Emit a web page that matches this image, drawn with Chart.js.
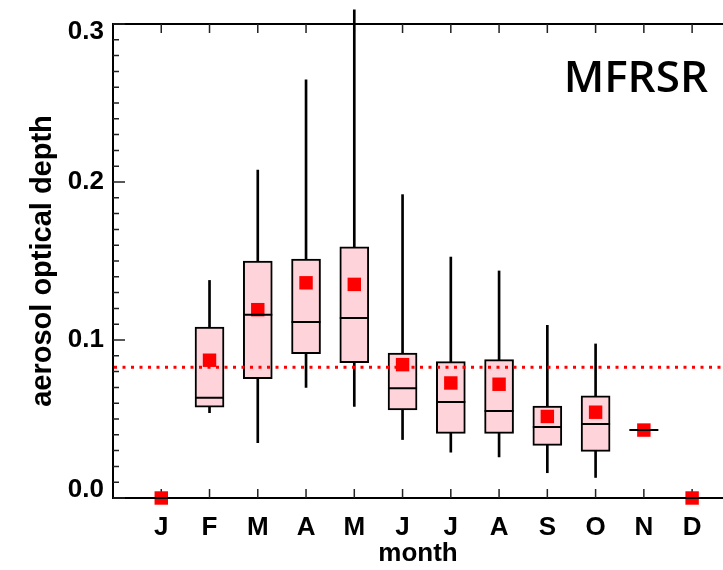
<!DOCTYPE html>
<html>
<head>
<meta charset="utf-8">
<script src="https://cdn.jsdelivr.net/npm/chart.js@4.4.1/dist/chart.umd.min.js"></script>
<style>
  html, body { margin: 0; padding: 0; background: #fff; overflow: hidden; }
</style>
</head>
<body>
<canvas id="box" width="723" height="570"></canvas>
<script>
// monthly aerosol optical depth, MFRSR
const monthLabels = ['J', 'F', 'M', 'A', 'M', 'J', 'J', 'A', 'S', 'O', 'N', 'D'];
const whiskerLow  = [null, 0.054, 0.035, 0.070, 0.058, 0.037, 0.029, 0.026, 0.016, 0.013, null, null];
const boxLow      = [null, 0.0575, 0.0756, 0.0914, 0.0857, 0.0558, 0.0409, 0.0409, 0.0333, 0.0295, null, null];
const medians     = [0, 0.0634, 0.116, 0.1114, 0.1139, 0.0695, 0.0608, 0.055, 0.0449, 0.0469, 0.043, 0];
const boxHigh     = [null, 0.1082, 0.1499, 0.1512, 0.159, 0.0918, 0.0863, 0.0876, 0.0581, 0.0646, null, null];
const whiskerHigh = [null, 0.1377, 0.2076, 0.2646, 0.309, 0.192, 0.1525, 0.1437, 0.1093, 0.0975, null, null];
const means       = [0, 0.0872, 0.1192, 0.1362, 0.1352, 0.0844, 0.0728, 0.072, 0.0516, 0.0543, 0.043, 0];
const annualMean  = 0.0827;
const yTickValues = [0, 0.1, 0.2, 0.3];
const yTickLabels = ['0.0', '0.1', '0.2', '0.3'];

const floating = (lo, hi) => lo.map((v, i) => v === null ? null : {x: i + 1, y: [v, hi[i]]}).filter(Boolean);
const points = vals => vals.map((v, i) => ({x: i + 1, y: v}));

const boldFont = size => ({family: 'Liberation Sans', size: size, weight: 'bold'});

const framePlugin = {
    id: 'frame',
    beforeDatasetsDraw(chart) {
        const {ctx, chartArea: a, scales: {x, y}} = chart;
        ctx.save();
        ctx.strokeStyle = '#000';
        ctx.lineWidth = 2;
        ctx.beginPath();
        ctx.moveTo(a.right, a.top);
        ctx.lineTo(a.left, a.top);
        ctx.lineTo(a.left, a.bottom);
        ctx.lineTo(a.right, a.bottom);
        ctx.stroke();
        ctx.lineWidth = 1.5;
        ctx.strokeStyle = '#222';
        ctx.beginPath();
        for (let k = 0; k <= 30; k++) {
            const py = y.getPixelForValue(k / 100);
            ctx.moveTo(a.left, py);
            ctx.lineTo(a.left + (k % 10 === 0 ? 12 : 6), py);
        }
        monthLabels.forEach((m, i) => {
            const px = x.getPixelForValue(i + 1);
            ctx.moveTo(px, a.bottom);
            ctx.lineTo(px, a.bottom - 9);
            ctx.moveTo(px, a.top);
            ctx.lineTo(px, a.top + 9);
        });
        ctx.stroke();
        ctx.restore();
    },
    afterDatasetsDraw(chart) {
        const {ctx, chartArea: a, scales: {x, y}} = chart;
        ctx.save();
        // medians on top of the boxes and mean squares
        ctx.strokeStyle = '#000';
        ctx.lineWidth = 2;
        ctx.beginPath();
        medians.forEach((v, i) => {
            const px = x.getPixelForValue(i + 1);
            const py = y.getPixelForValue(v);
            ctx.moveTo(px - 14.5, py);
            ctx.lineTo(px + 14.5, py);
        });
        ctx.stroke();
        // annual mean
        const py = y.getPixelForValue(annualMean);
        ctx.strokeStyle = '#ff0000';
        ctx.lineWidth = 3;
        ctx.setLineDash([3, 5.5]);
        ctx.beginPath();
        ctx.moveTo(a.left + 1, py);
        ctx.lineTo(a.right, py);
        ctx.stroke();
        ctx.restore();
    },
    afterDraw(chart) {
        const {ctx, chartArea: a, scales: {y}} = chart;
        ctx.save();
        ctx.fillStyle = '#000';
        ctx.font = 'bold 26px "Liberation Sans"';
        ctx.textAlign = 'right';
        ctx.textBaseline = 'middle';
        yTickValues.forEach((v, i) => {
            const py = Math.min(Math.max(y.getPixelForValue(v), a.top + 8), a.bottom - 8.5);
            ctx.fillText(yTickLabels[i], a.left - 9, py);
        });
        ctx.font = '600 44px "Open Sans"';
        ctx.textBaseline = 'alphabetic';
        ctx.fillText('MFRSR', 708, 92);
        ctx.restore();
    }
};

new Chart(document.getElementById('box').getContext('2d'), {
    type: 'bar',
    data: {
        datasets: [{
            label: 'whiskers',
            data: floating(whiskerLow, whiskerHigh),
            backgroundColor: '#000',
            barThickness: 2,
            grouped: false,
            clip: false,
            order: 3
        }, {
            label: 'quartiles',
            data: floating(boxLow, boxHigh),
            backgroundColor: 'rgb(255, 211, 218)',
            borderColor: '#000',
            borderWidth: 2,
            borderSkipped: false,
            barThickness: 29,
            grouped: false,
            order: 2
        }, {
            type: 'scatter',
            label: 'mean',
            data: points(means),
            pointStyle: 'rect',
            pointRadius: 9.5,
            backgroundColor: '#ff0000',
            borderWidth: 0,
            showLine: false,
            clip: false,
            order: 1
        }]
    },
    options: {
        responsive: false,
        animation: false,
        events: [],
        layout: {autoPadding: false, padding: {top: 24, right: 0, bottom: 0, left: 0}},
        plugins: {legend: {display: false}, tooltip: {enabled: false}},
        scales: {
            x: {
                type: 'linear',
                min: 0,
                max: 12.64,
                offset: false,
                grid: {display: false},
                border: {display: false},
                afterBuildTicks: s => { s.ticks = monthLabels.map((m, i) => ({value: i + 1})); },
                ticks: {
                    autoSkip: false,
                    maxRotation: 0,
                    padding: 6,
                    color: '#000',
                    font: boldFont(26),
                    callback: (v, i) => monthLabels[i]
                },
                title: {display: true, text: 'month', color: '#000', font: boldFont(26), padding: {top: 0, bottom: 1}},
                afterFit: s => { s.height = 72; s.paddingLeft = 0; s.paddingRight = 0; }
            },
            y: {
                min: 0,
                max: 0.3,
                grid: {display: false},
                border: {display: false},
                ticks: {display: false},
                title: {display: true, text: 'aerosol optical depth', color: '#000', font: boldFont(29), padding: {top: 26, bottom: 0}},
                afterFit: s => { s.width = 113; }
            }
        }
    },
    plugins: [framePlugin]
});
</script>
</body>
</html>
